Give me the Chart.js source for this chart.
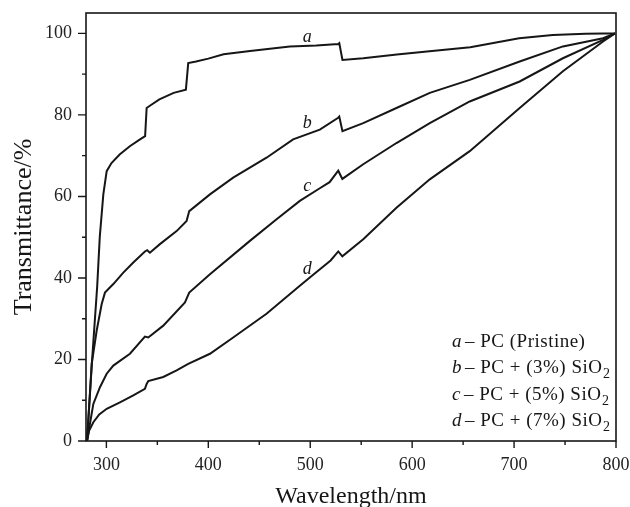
<!DOCTYPE html>
<html>
<head>
<meta charset="utf-8">
<script src="https://cdn.jsdelivr.net/npm/chart.js@4"></script>
<style>
  body { margin: 0; background: #fff; }
  #wrap { width: 630px; height: 507px; }
</style>
</head>
<body>
<div id="wrap"><canvas id="chart" width="630" height="507"></canvas></div>
<script>
// === data ===
const aX = [281, 286, 291, 293.5, 297, 300.3, 305, 313, 323, 333, 338, 339.5, 343, 352, 366, 378, 380.3, 388, 400, 415, 441, 480, 506, 527.5, 528.5, 531.6, 552, 585, 617, 657, 705, 738, 770, 787, 799];
const aY = [0, 20, 38, 50, 60.5, 66.2, 68.2, 70.3, 72.3, 74, 74.8, 81.7, 82.3, 83.8, 85.4, 86.2, 92.7, 93.1, 93.8, 94.9, 95.7, 96.8, 97, 97.4, 97.6, 93.5, 93.9, 94.8, 95.6, 96.6, 98.8, 99.6, 99.9, 100, 100];

const bX = [281, 285.6, 290.5, 295.4, 298.6, 306.8, 316.6, 326.4, 337.8, 340, 342.7, 352.5, 368.9, 378.7, 381.3, 401.6, 424.4, 457.1, 483.2, 509.4, 527.4, 528.5, 531.6, 552, 584.6, 617.3, 656.5, 705.5, 747.9, 787.3, 799];
const bY = [0, 18.9, 27.1, 33.6, 36.4, 38.5, 41.3, 43.8, 46.5, 46.8, 46.2, 48.3, 51.5, 54, 56.4, 60.5, 64.6, 69.5, 74, 76.4, 79.3, 79.6, 76, 78, 81.7, 85.4, 88.6, 93.1, 96.8, 98.8, 100];

const cX = [281, 287.2, 293.7, 300.3, 306.8, 323.1, 337.8, 341.1, 355.8, 377.1, 381.3, 401.6, 440.8, 467, 489.8, 509.4, 519, 527.5, 531.5, 552, 584.6, 617.3, 656.5, 705.5, 747.9, 787.3, 799];
const cY = [0, 9.1, 13.2, 16.5, 18.5, 21.4, 25.6, 25.4, 28.3, 34, 36.4, 40.9, 49.1, 54.4, 58.9, 62, 63.5, 66.3, 64.3, 67.9, 73.1, 78, 83.3, 88.2, 93.9, 98.4, 100];

const dX = [281, 283, 287.2, 293, 300.3, 313.3, 326.4, 337.8, 339.5, 341.1, 355.8, 368.9, 380.3, 401.6, 424.4, 457.1, 489.8, 499.6, 520, 527.5, 531.5, 552, 584.6, 617.3, 656.5, 705.5, 747.9, 787.3, 799];
const dY = [0, 2.5, 4.6, 6.5, 7.9, 9.5, 11.2, 12.8, 14, 14.7, 15.7, 17.3, 18.9, 21.4, 25.4, 31.2, 38.1, 40.1, 44.3, 46.5, 45.3, 49.5, 57.2, 64.2, 71.1, 81.7, 90.7, 98, 100];

const seriesKeys = ["a", "b", "c", "d"];
const seriesNames = ["PC (Pristine)", "PC + (3%) SiO2", "PC + (5%) SiO2", "PC + (7%) SiO2"];

const xTicks = [300, 400, 500, 600, 700, 800];
const xMinor = [300, 350, 400, 450, 500, 550, 600, 650, 700, 750, 800];
const yTicks = [0, 20, 40, 60, 80, 100];
const yMinor = [0, 10, 20, 30, 40, 50, 60, 70, 80, 90, 100];

const SERIF = '"Liberation Serif", "DejaVu Serif", serif';
const INK = "#161616";

function pts(xs, ys) {
  return xs.map((x, i) => ({ x: x, y: ys[i] }));
}

// no extra room for overflowing end labels, the layout padding does it
function noOverflow(s) {
  s.paddingTop = 0;
  s.paddingBottom = 0;
  s.paddingLeft = 0;
  s.paddingRight = 0;
}

// === frame, ticks, labels, legend, axis titles ===
const decor = {
  id: "decor",
  afterDraw(chart) {
    const { ctx, chartArea: a } = chart;
    const x = chart.scales.x;
    const y = chart.scales.y;
    ctx.save();

    // frame
    ctx.strokeStyle = INK;
    ctx.lineWidth = 1.6;
    ctx.strokeRect(a.left, a.top, a.right - a.left, a.bottom - a.top);

    // tick marks (outward)
    ctx.lineWidth = 1.4;
    ctx.beginPath();
    xMinor.forEach((v) => {
      const px = x.getPixelForValue(v);
      const len = v % 100 === 0 ? 7 : 4;
      ctx.moveTo(px, a.bottom);
      ctx.lineTo(px, a.bottom + len);
    });
    yMinor.forEach((v) => {
      const py = y.getPixelForValue(v);
      const len = v % 20 === 0 ? 8 : 4;
      ctx.moveTo(a.left, py);
      ctx.lineTo(a.left - len, py);
    });
    ctx.stroke();

    // curve letters
    const letterPos = [[497, 97.8], [497, 76.8], [497, 61.3], [497, 41]];
    ctx.fillStyle = INK;
    ctx.font = "italic 18px " + SERIF;
    ctx.textAlign = "center";
    ctx.textBaseline = "alphabetic";
    seriesKeys.forEach((k, i) => {
      ctx.fillText(k, x.getPixelForValue(letterPos[i][0]), y.getPixelForValue(letterPos[i][1]));
    });

    // legend
    ctx.textAlign = "left";
    ctx.letterSpacing = "0.5px";
    const lx = 452;
    const baselines = [346.5, 373, 399.5, 426];
    seriesKeys.forEach((k, i) => {
      let px = lx;
      const by = baselines[i];
      ctx.font = "italic 19px " + SERIF;
      ctx.fillText(k, px, by);
      px += ctx.measureText(k).width + 3;
      ctx.font = "19px " + SERIF;
      let name = seriesNames[i];
      let sub = "";
      if (name.endsWith("SiO2")) {
        name = name.slice(0, -1);
        sub = "2";
      }
      const txt = "\u2013 " + name;
      ctx.fillText(txt, px, by);
      px += ctx.measureText(txt).width;
      if (sub) {
        ctx.font = "14px " + SERIF;
        ctx.fillText(sub, px + 0.5, by + 5);
      }
    });
    ctx.letterSpacing = "0px";

    // axis titles
    ctx.font = "24px " + SERIF;
    ctx.textAlign = "center";
    ctx.fillText("Wavelength/nm", (a.left + a.right) / 2, 503);

    ctx.save();
    ctx.translate(31, (a.top + a.bottom) / 2);
    ctx.rotate(-Math.PI / 2);
    ctx.font = "26px " + SERIF;
    ctx.fillText("Transmittance/%", 0, 0);
    ctx.restore();

    ctx.restore();
  }
};

const lineStyle = {
  borderColor: INK,
  borderWidth: 2,
  pointRadius: 0,
  tension: 0,
  fill: false
};

const chart = new Chart(document.getElementById("chart").getContext("2d"), {
  type: "line",
  data: {
    datasets: [
      Object.assign({ label: seriesNames[0], data: pts(aX, aY) }, lineStyle),
      Object.assign({ label: seriesNames[1], data: pts(bX, bY) }, lineStyle),
      Object.assign({ label: seriesNames[2], data: pts(cX, cY) }, lineStyle),
      Object.assign({ label: seriesNames[3], data: pts(dX, dY) }, lineStyle)
    ]
  },
  options: {
    responsive: false,
    animation: false,
    parsing: false,
    layout: { padding: { top: 13, right: 14, left: 0, bottom: 0 } },
    plugins: { legend: { display: false }, tooltip: { enabled: false } },
    scales: {
      x: {
        type: "linear",
        min: 280,
        max: 800,
        grid: { display: false, drawTicks: false },
        border: { display: false },
        afterBuildTicks: (s) => { s.ticks = xTicks.map((v) => ({ value: v })); },
        afterFit: (s) => { s.height = 66; noOverflow(s); },
        ticks: {
          color: "#222",
          font: { family: SERIF, size: 18 },
          padding: 13,
          maxRotation: 0,
          autoSkip: false
        }
      },
      y: {
        min: 0,
        max: 105,
        grid: { display: false, drawTicks: false },
        border: { display: false },
        afterBuildTicks: (s) => { s.ticks = yTicks.map((v) => ({ value: v })); },
        afterFit: (s) => { s.width = 86; noOverflow(s); },
        ticks: {
          color: "#222",
          font: { family: SERIF, size: 18 },
          padding: 14,
          autoSkip: false
        }
      }
    }
  },
  plugins: [decor]
});
</script>
</body>
</html>
